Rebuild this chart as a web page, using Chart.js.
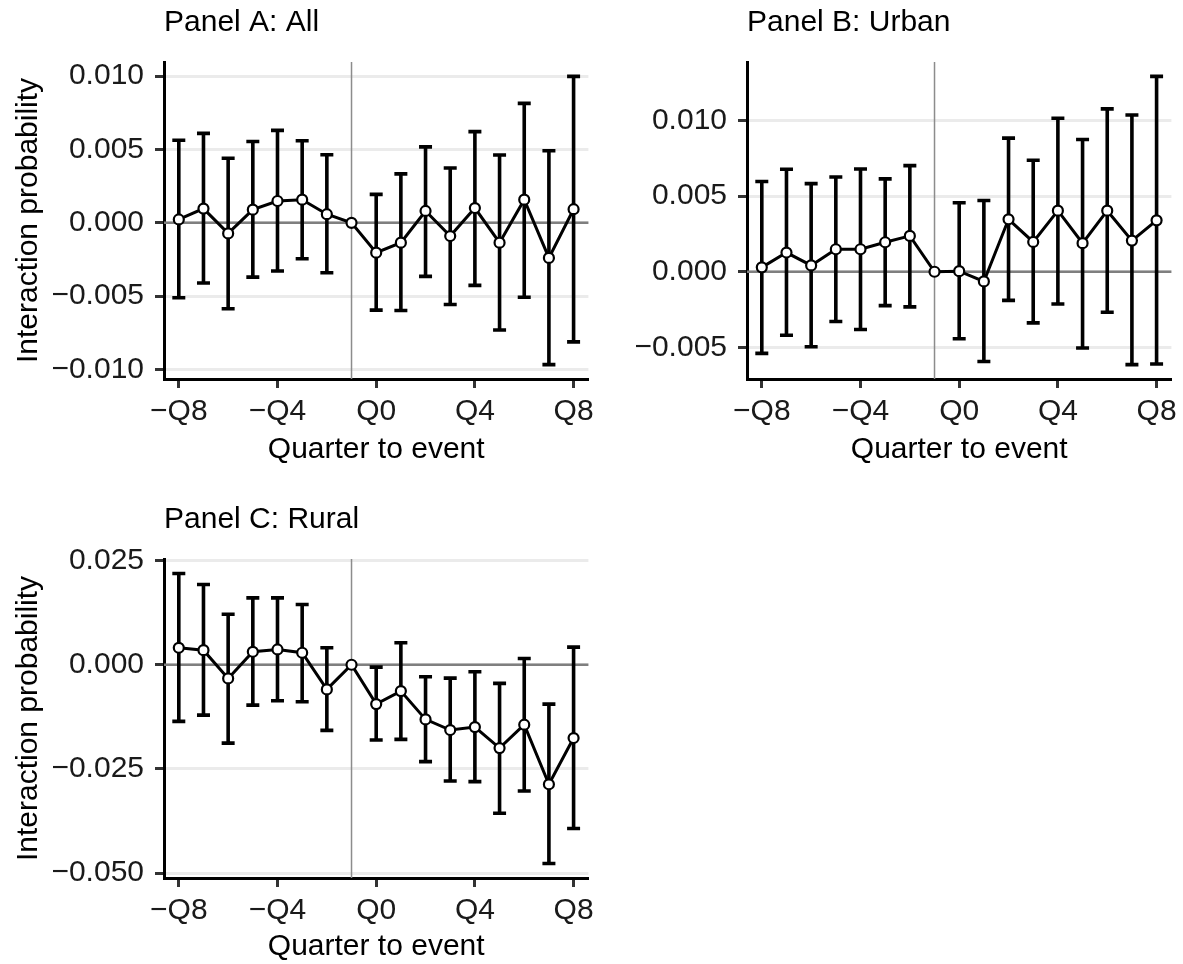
<!DOCTYPE html>
<html>
<head>
<meta charset="utf-8">
<script src="https://cdn.jsdelivr.net/npm/chart.js@4.4.1/dist/chart.umd.min.js"></script>
<style>
  html, body { margin: 0; padding: 0; background: #fff; overflow: hidden; }
  canvas { position: absolute; }
</style>
</head>
<body>
<canvas id="panelA" width="600" height="468" style="left:0;top:0"></canvas>
<canvas id="panelB" width="583" height="468" style="left:600px;top:0"></canvas>
<canvas id="panelC" width="600" height="468" style="left:0;top:497px"></canvas>
<script>
// quarters relative to the event, -1 is the omitted reference quarter
const quarters = [-8, -7, -6, -5, -4, -3, -2, -1, 0, 1, 2, 3, 4, 5, 6, 7, 8];
const eventQuarter = -1;
const xTickValues = [-8, -4, 0, 4, 8];
const xTickLabels = ['\u2212Q8', '\u2212Q4', 'Q0', 'Q4', 'Q8'];

// Panel A: All
const allEst = [0.00023, 0.00097, -0.00072, 0.0009, 0.00149, 0.00158, 0.00059, 0, -0.00203, -0.00135, 0.00081, -0.0009, 0.00101, -0.00135, 0.00158, -0.00239, 0.00093];
const allLo = [-0.0051, -0.0041, -0.00585, -0.0037, -0.00328, -0.00245, -0.0034, null, -0.00595, -0.00597, -0.00365, -0.00556, -0.00426, -0.0073, -0.00507, -0.00966, -0.00811];
const allHi = [0.00563, 0.0061, 0.0044, 0.00554, 0.0063, 0.0056, 0.00464, null, 0.00194, 0.00334, 0.00518, 0.00374, 0.00622, 0.00462, 0.00814, 0.00491, 0.00998];
const allYTicks = [0.010, 0.005, 0, -0.005, -0.010];

// Panel B: Urban
const urbanEst = [0.00029, 0.00127, 0.00042, 0.00149, 0.00149, 0.00195, 0.00237, 0, 0.00004, -0.00064, 0.00347, 0.00197, 0.00404, 0.00189, 0.00404, 0.00206, 0.0034];
const urbanLo = [-0.0054, -0.0042, -0.00496, -0.00329, -0.00382, -0.00224, -0.00232, null, -0.00443, -0.00594, -0.00189, -0.00338, -0.00213, -0.00504, -0.00268, -0.00614, -0.0061];
const urbanHi = [0.00597, 0.00678, 0.00583, 0.00627, 0.0068, 0.00614, 0.00702, null, 0.00456, 0.00471, 0.00884, 0.00737, 0.01015, 0.00875, 0.01077, 0.01037, 0.01292];
const urbanYTicks = [0.010, 0.005, 0, -0.005];

// Panel C: Rural
const ruralEst = [0.00407, 0.0035, -0.00328, 0.00311, 0.00367, 0.00288, -0.00592, 0, -0.00944, -0.00632, -0.01311, -0.01567, -0.01496, -0.02, -0.01439, -0.02869, -0.01759];
const ruralLo = [-0.0136, -0.0121, -0.0188, -0.00968, -0.00863, -0.00887, -0.01575, null, -0.01807, -0.0179, -0.02325, -0.0279, -0.02805, -0.03565, -0.0303, -0.0477, -0.0393];
const ruralHi = [0.0219, 0.01925, 0.01213, 0.01606, 0.01606, 0.01445, 0.00407, null, -0.00057, 0.00527, -0.00288, -0.00321, -0.00168, -0.00448, 0.00151, -0.00944, 0.00422];
const ruralYTicks = [0.025, 0, -0.025, -0.050];

Chart.defaults.font.family = "'Liberation Sans', Arial, Helvetica, sans-serif";
Chart.defaults.animation = false;

const fmt = v => (v < 0 ? '\u2212' : '') + Math.abs(v).toFixed(3);

function makePanel(id, o) {
  const valid = o.lo.concat(o.hi).filter(v => v != null);
  const lo = Math.min(...valid), hi = Math.max(...valid);
  const pad = (hi - lo) * 0.05;

  // zero line, event line and confidence intervals, drawn under the line
  const errorBars = {
    id: 'errorBars',
    beforeDatasetsDraw(chart) {
      const { ctx, chartArea: a, scales: { x, y } } = chart;
      ctx.save();
      const y0 = y.getPixelForValue(0);
      ctx.strokeStyle = '#7f7f7f';
      ctx.lineWidth = 2.5;
      ctx.beginPath(); ctx.moveTo(a.left, y0); ctx.lineTo(a.right, y0); ctx.stroke();
      const xe = x.getPixelForValue(eventQuarter);
      ctx.strokeStyle = '#8c8c8c';
      ctx.lineWidth = 1.5;
      ctx.beginPath(); ctx.moveTo(xe, a.top); ctx.lineTo(xe, a.bottom); ctx.stroke();

      ctx.strokeStyle = '#000';
      ctx.lineWidth = 3.6;
      quarters.forEach((q, i) => {
        if (o.lo[i] == null) return;
        const px = x.getPixelForValue(q);
        const p1 = y.getPixelForValue(o.lo[i]);
        const p2 = y.getPixelForValue(o.hi[i]);
        ctx.beginPath();
        ctx.moveTo(px, p1); ctx.lineTo(px, p2);
        ctx.moveTo(px - 6.5, p1); ctx.lineTo(px + 6.5, p1);
        ctx.moveTo(px - 6.5, p2); ctx.lineTo(px + 6.5, p2);
        ctx.stroke();
      });
      ctx.restore();
    }
  };

  return new Chart(document.getElementById(id), {
    type: 'line',
    data: {
      datasets: [{
        data: quarters.map((q, i) => ({ x: q, y: o.est[i] })),
        borderColor: '#000',
        borderWidth: 3,
        tension: 0,
        pointRadius: 5,
        pointBorderWidth: 2.2,
        pointBackgroundColor: '#fff',
        pointBorderColor: '#000'
      }]
    },
    options: {
      responsive: false,
      devicePixelRatio: 1,
      layout: { padding: { left: o.padLeft, right: o.padRight, top: 0, bottom: 0 } },
      plugins: {
        legend: { display: false },
        tooltip: { enabled: false },
        title: {
          display: true,
          text: o.title,
          align: 'start',
          fullSize: false,
          color: '#000',
          font: { size: 30, weight: 'normal', lineHeight: 1.2 },
          padding: { top: 5, bottom: 21 }
        }
      },
      scales: {
        x: {
          type: 'linear',
          min: -8.6,
          max: 8.6,
          afterBuildTicks: s => { s.ticks = xTickValues.map(v => ({ value: v })); },
          afterFit: s => { s.height = o.xHeight; },
          grid: { drawOnChartArea: false, tickColor: '#333', tickLength: 9, tickWidth: 3 },
          border: { color: '#000', width: 3 },
          ticks: {
            color: '#1a1a1a', padding: 6, autoSkip: false, maxRotation: 0,
            font: { size: 30, lineHeight: 1.2 },
            callback: (v, i) => xTickLabels[i]
          },
          title: { display: true, text: 'Quarter to event', color: '#000', font: { size: 30, lineHeight: 1.2 }, padding: 0 }
        },
        y: {
          type: 'linear',
          min: lo - pad,
          max: hi + pad,
          afterBuildTicks: s => { s.ticks = o.yTicks.map(v => ({ value: v })); },
          afterFit: s => { s.width = o.yWidth; },
          grid: { color: '#ebebeb', lineWidth: 3, tickColor: '#333', tickLength: 9, tickWidth: 3 },
          border: { color: '#000', width: 3 },
          ticks: {
            color: '#1a1a1a', padding: 11,
            font: { size: 30, lineHeight: 1.2 },
            callback: v => fmt(v)
          },
          title: { display: o.yTitle, text: 'Interaction probability', color: '#000', font: { size: 30, lineHeight: 1.2 }, padding: 0 }
        }
      }
    },
    plugins: [errorBars]
  });
}

makePanel('panelA', { title: 'Panel A: All', est: allEst, lo: allLo, hi: allHi, yTicks: allYTicks,
  yTitle: true, padLeft: 11, padRight: 8, yWidth: 153, xHeight: 89 });
makePanel('panelB', { title: 'Panel B: Urban', est: urbanEst, lo: urbanLo, hi: urbanHi, yTicks: urbanYTicks,
  yTitle: false, padLeft: 0, padRight: 7, yWidth: 147, xHeight: 89 });
makePanel('panelC', { title: 'Panel C: Rural', est: ruralEst, lo: ruralLo, hi: ruralHi, yTicks: ruralYTicks,
  yTitle: true, padLeft: 11, padRight: 8, yWidth: 153, xHeight: 87 });
</script>
</body>
</html>
